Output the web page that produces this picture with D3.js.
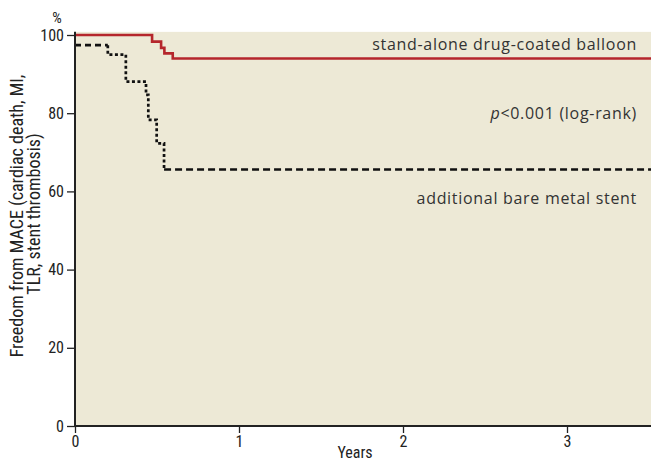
<!DOCTYPE html>
<html>
<head>
<meta charset="utf-8">
<script src="https://cdn.jsdelivr.net/npm/d3@7/dist/d3.min.js"></script>
<style>
  html, body { margin: 0; padding: 0; background: #ffffff; }
  svg { display: block; }
</style>
</head>
<body>
<svg id="chart" width="651" height="463"></svg>
<script>
// ---- data ----
const dcbTimes   = [0, 0.47, 0.525, 0.545, 0.596];
const dcbValues  = [100, 98.3, 96.7, 95.3, 94.0];
const bmsTimes   = [0, 0.2, 0.31, 0.433, 0.447, 0.498, 0.543];
const bmsValues  = [97.4, 95.0, 88.1, 84.7, 78.3, 72.3, 65.6];
const followUpEnd = 3.52;
const xTicks = [0, 1, 2, 3];
const yTicks = [0, 20, 40, 60, 80, 100];
const labels = {
  dcb: "stand-alone drug-coated balloon",
  bms: "additional bare metal stent",
  yTitle1: "Freedom from MACE (cardiac death, MI,",
  yTitle2: "TLR, stent thrombosis)",
  xTitle: "Years",
  unit: "%"
};

// ---- layout ----
const W = 651, H = 463;
const svg = d3.select("#chart");
const x = d3.scaleLinear().domain([0, 3]).range([75, 567]);
const y = d3.scaleLinear().domain([0, 100]).range([426, 35]);
const narrow = '"Liberation Sans Narrow", "Arial Narrow", "Roboto Condensed", sans-serif';
const textFont = '"Open Sans", "Noto Sans", sans-serif';

// background
svg.append("rect")
  .attr("x", x(0)).attr("y", y(100.8))
  .attr("width", W - x(0)).attr("height", y(0) - y(100.8))
  .attr("fill", "#ede9d6");

// step vertices from data
function kmVertices(times, values, end) {
  const v = [[times[0], values[0]]];
  for (let i = 1; i < times.length; i++) {
    v.push([times[i], values[i - 1]]);
    v.push([times[i], values[i]]);
  }
  v.push([end, values[values.length - 1]]);
  return v;
}
const line = d3.line().x(d => x(d[0])).y(d => y(d[1]));

const dcbV = kmVertices(dcbTimes, dcbValues, followUpEnd);
svg.append("path").attr("d", line(dcbV))
  .attr("fill", "none").attr("stroke", "#b5262c").attr("stroke-width", 2.6);

const bmsV = kmVertices(bmsTimes, bmsValues, followUpEnd);
const nV = bmsV.length;
const partA = bmsV.slice(0, 2);
const partB = bmsV.slice(1, nV - 1);
const partC = bmsV.slice(nV - 2);
svg.append("path").attr("d", line(partA))
  .attr("fill", "none").attr("stroke", "#111").attr("stroke-width", 2.7)
  .attr("stroke-dasharray", "6,4");
svg.append("path").attr("d", line(partB))
  .attr("fill", "none").attr("stroke", "#111").attr("stroke-width", 2.7)
  .attr("stroke-dasharray", "3,2.5");
svg.append("path").attr("d", line(partC))
  .attr("fill", "none").attr("stroke", "#111").attr("stroke-width", 2.7)
  .attr("stroke-dasharray", "7,4");

// axes
const yAxis = svg.append("g").attr("transform", `translate(${x(0)},0)`)
  .call(d3.axisLeft(y).tickValues(yTicks).tickFormat(d3.format("d")).tickSize(8).tickPadding(3));
const xAxis = svg.append("g").attr("transform", `translate(0,${y(0)})`)
  .call(d3.axisBottom(x).tickValues(xTicks).tickFormat(d3.format("d")).tickSize(7).tickPadding(3));
[yAxis, xAxis].forEach(g => {
  g.select(".domain").remove();
  g.selectAll(".tick line").attr("stroke", "#222").attr("stroke-width", 1.3);
  g.selectAll(".tick text").attr("fill", "#222").style("font-size", "16px")
    .style("font-family", narrow);
});
svg.append("line").attr("x1", x(0)).attr("x2", x(0)).attr("y1", y(100.8)).attr("y2", y(0) + 1)
  .attr("stroke", "#222").attr("stroke-width", 2);
svg.append("line").attr("x1", x(0) - 1).attr("x2", W).attr("y1", y(0)).attr("y2", y(0))
  .attr("stroke", "#222").attr("stroke-width", 2);

// titles
svg.append("text").attr("x", 57).attr("y", 23).attr("text-anchor", "middle")
  .style("font-family", narrow).style("font-size", "15px").attr("fill", "#222").text(labels.unit);
svg.append("text").attr("x", (x(0) + W) / 2 - 8).attr("y", 458).attr("text-anchor", "middle")
  .style("font-family", narrow).style("font-size", "16px").attr("fill", "#222").text(labels.xTitle);
svg.append("text").attr("transform", "translate(23,216) rotate(-90)").attr("text-anchor", "middle")
  .style("font-family", narrow).style("font-size", "18px").attr("fill", "#222").text(labels.yTitle1);
svg.append("text").attr("transform", "translate(40,214) rotate(-90)").attr("text-anchor", "middle")
  .style("font-family", narrow).style("font-size", "18px").attr("fill", "#222").text(labels.yTitle2);

// annotations
const ann = svg.append("g").style("font-family", textFont).style("font-size", "16px")
  .style("letter-spacing", "0.7px").attr("fill", "#333");
ann.append("text").attr("x", 637).attr("y", 50).attr("text-anchor", "end").text(labels.dcb);
const p = ann.append("text").attr("x", 637).attr("y", 119).attr("text-anchor", "end");
p.append("tspan").style("font-style", "italic").text("p");
p.append("tspan").text("<0.001 (log-rank)");
ann.append("text").attr("x", 637).attr("y", 204).attr("text-anchor", "end").text(labels.bms);
</script>
</body>
</html>
